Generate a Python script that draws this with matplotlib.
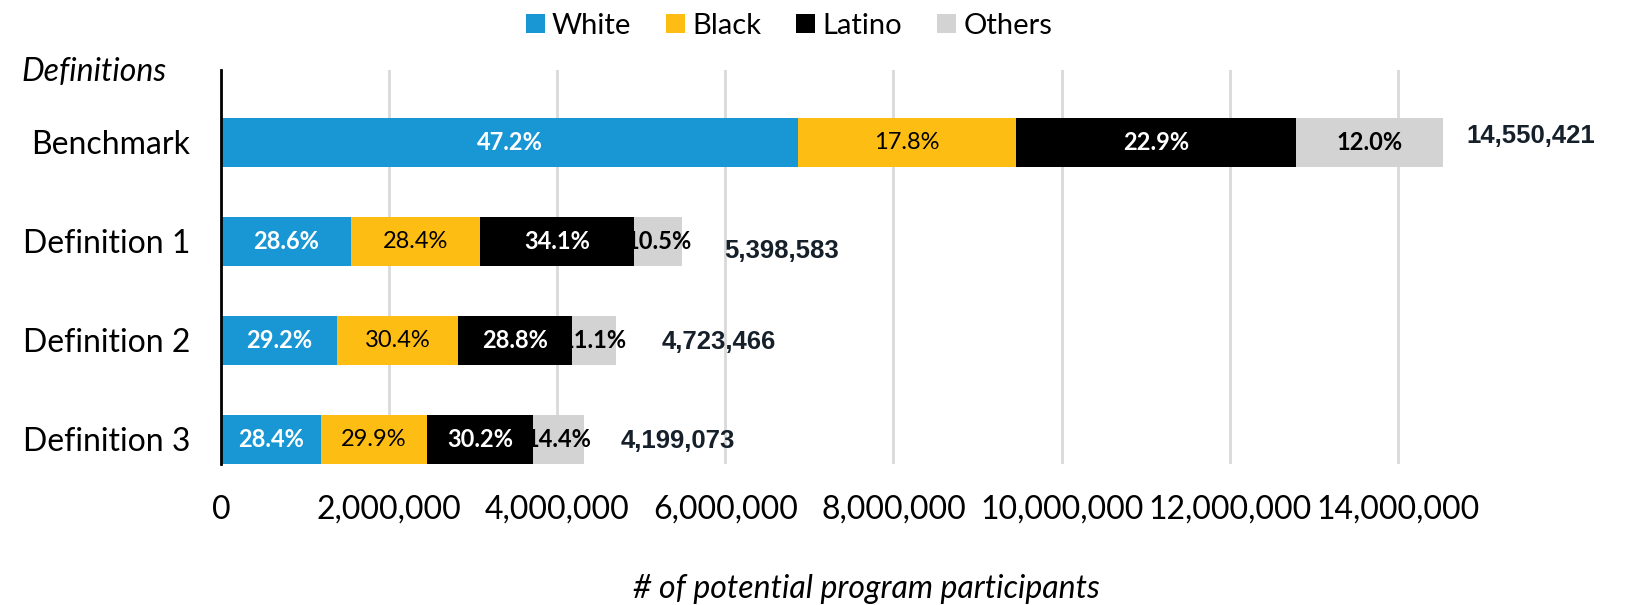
import matplotlib
matplotlib.use("Agg")
import matplotlib.pyplot as plt
from matplotlib.patches import Patch
import numpy as np

# Data
categories = ["Benchmark", "Definition 1", "Definition 2", "Definition 3"]
totals = [14550421, 5398583, 4723466, 4199073]
groups = ["White", "Black", "Latino", "Others"]
white_pct = [47.2, 28.6, 29.2, 28.4]
black_pct = [17.8, 28.4, 30.4, 29.9]
latino_pct = [22.9, 34.1, 28.8, 30.2]
others_pct = [12.0, 10.5, 11.1, 14.4]
xticks = [0, 2000000, 4000000, 6000000, 8000000, 10000000, 12000000, 14000000]

# Styling
colors = ["#1997d4", "#fdbd13", "#000000", "#d3d3d3"]
label_colors = ["white", "black", "white", "black"]
label_weights = ["bold", "normal", "bold", "bold"]
total_offsets_px = [(22, -6), (49, 10), (44, 2), (47, 2)]  # nudges for total labels

plt.rcParams["font.family"] = ["Lato", "DejaVu Sans"]

W, H = 1627, 605
fig = plt.figure(figsize=(W / 100, H / 100), dpi=100)
x0, x1 = 221, 1566
y_top, y_bot = 70, 464
ax = fig.add_axes([x0 / W, 1 - y_bot / H, (x1 - x0) / W, (y_bot - y_top) / H])

pcts = [white_pct, black_pct, latino_pct, others_pct]
y = np.arange(len(categories))
left = np.zeros(len(categories))
for g, (name, pct) in enumerate(zip(groups, pcts)):
    widths = np.array(pct) / 100.0 * np.array(totals)
    ax.barh(y, widths, left=left, height=0.5, color=colors[g], label=name, zorder=2)
    for i in range(len(categories)):
        ax.text(left[i] + widths[i] / 2, y[i], f"{pct[i]:.1f}%", ha="center", va="center",
                color=label_colors[g], fontsize=17, fontweight=label_weights[g], zorder=3)
    left += widths

for i, tot in enumerate(totals):
    dx, dy = total_offsets_px[i]
    ax.annotate(f"{tot:,}", xy=(tot, y[i]), xytext=(dx * 0.72, -dy * 0.72),
                textcoords="offset points", ha="left", va="center",
                fontsize=18.5, fontweight="bold", color="#15202b",
                family=["Liberation Sans", "DejaVu Sans"], annotation_clip=False)

ax.set_ylim(3.25, -0.73)
ax.set_xlim(0, 16000000)
ax.set_yticks(y)
ax.set_yticklabels(categories, fontsize=23)
ax.set_xticks(xticks)
ax.set_xticklabels([f"{t:,}" for t in xticks], fontsize=23)
ax.tick_params(axis="y", length=0, pad=22)
ax.tick_params(axis="x", length=0, pad=22)
ax.grid(axis="x", color="#d9d9d9", linewidth=2, zorder=0)
ax.set_axisbelow(True)
for s in ["top", "right", "bottom"]:
    ax.spines[s].set_visible(False)
ax.spines["left"].set_color("black")
ax.spines["left"].set_linewidth(2)
ax.spines["left"].set_zorder(4)

fig.text(21 / W, 1 - 72 / H, "Definitions", fontsize=23, style="italic", ha="left", va="center")
fig.text(866 / W, 1 - 589 / H, "# of potential program participants", fontsize=23,
         style="italic", ha="center", va="center")

handles = [Patch(facecolor=c, edgecolor="none") for c in colors]
fig.legend(handles, groups, loc="center", bbox_to_anchor=(789 / W, 1 - 26 / H), ncol=4,
           frameon=False, fontsize=21, handlelength=0.65, handleheight=0.65,
           handletextpad=0.25, columnspacing=1.2)

fig.savefig("out.png", dpi=100)
